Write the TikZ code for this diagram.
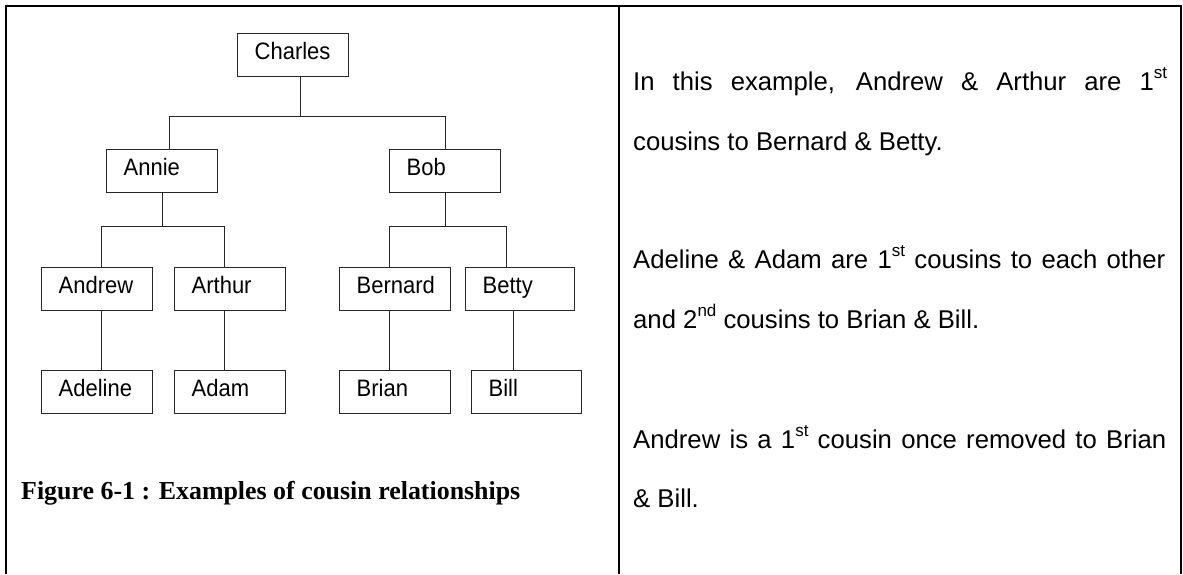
\documentclass[tikz,border=0pt]{standalone}
\usepackage{graphicx}
\usepackage{fontspec}
\setmainfont{Liberation Sans}
\newfontfamily\capfont{Liberation Serif}
\newcommand\personname[1]{\hspace*{17pt}\scalebox{1}[1.08]{#1}}
\newcommand\ordsup[1]{\raisebox{11.5pt}{\fontsize{17}{17}\selectfont #1}}
\begin{document}
\begin{tikzpicture}[x=1pt,y=-1pt,
  person/.style={draw=black!85, line width=1.3pt, rectangle, inner sep=0pt,
    minimum width=111pt, minimum height=43pt, text width=111pt, align=left,
    text height=26pt, text depth=17pt, anchor=north west,
    font=\fontsize{22}{26}\selectfont},
  link/.style={draw=black!85, line width=1.3pt},
  note/.style={anchor=base west, inner sep=0pt, font=\fontsize{25.7}{30}\selectfont},
  frame/.style={line width=2pt}]
\useasboundingbox (0,0) rectangle (1183,574);

% table frame and column divider
\draw[frame] (6,574) -- (6,6) -- (1180.5,6) -- (1180.5,574);
\draw[frame] (619,6) -- (619,574);

% family tree
\node[person] (charles) at (237,33) {\personname{Charles}};
\node[person] (annie) at (106,149) {\personname{Annie}};
\node[person] (bob) at (389,149) {\personname{Bob}};
\node[person] (andrew) at (41,267) {\personname{Andrew}};
\node[person] (arthur) at (174,267) {\personname{Arthur}};
\node[person] (bernard) at (339,267) {\personname{Bernard}};
\node[person, minimum width=109pt, text width=109pt] (betty) at (465,267) {\personname{Betty}};
\node[person] (adeline) at (41,370) {\personname{Adeline}};
\node[person] (adam) at (174,370) {\personname{Adam}};
\node[person] (brian) at (339,370) {\personname{Brian}};
\node[person, minimum width=110pt, text width=110pt] (bill) at (471,370) {\personname{Bill}};

% parent-to-children connectors
\draw[link] ([xshift=7.5pt]charles.south) -- ++(0,39) coordinate (j0);
\draw[link] ([xshift=7.5pt]annie.north) |- (j0) -| (bob.north);
\draw[link] (annie.south) -- ++(0,33) coordinate (ja);
\draw[link] ([xshift=4.5pt]andrew.north) |- (ja) -| ([xshift=-5.5pt]arthur.north);
\draw[link] (bob.south) -- ++(0,33) coordinate (jb);
\draw[link] ([xshift=-5.5pt]bernard.north) |- (jb) -| ([xshift=-13.5pt]betty.north);
\draw[link] ([xshift=4.5pt]andrew.south) -- ([xshift=4.5pt]adeline.north);
\draw[link] ([xshift=-5.5pt]arthur.south) -- ([xshift=-5.5pt]adam.north);
\draw[link] ([xshift=-5.5pt]bernard.south) -- ([xshift=-5.5pt]brian.north);
\draw[link] ([xshift=-6.5pt]betty.south) -- ([xshift=-13pt]bill.north);

% caption
\node[anchor=base west, inner sep=0pt, font=\capfont\bfseries\fontsize{25.9}{30}\selectfont]
  (caption) at (21,499) {Figure 6-1 : Examples of cousin relationships};

% explanatory text
\node[note] (t1) at (633,90) {\makebox[534pt][s]{In this example, Andrew \& Arthur are 1\ordsup{st}}};
\node[note] (t2) at (633,150) {cousins to Bernard \& Betty.};
\node[note] (t3) at (633,268) {\makebox[532pt][s]{Adeline \& Adam are 1\ordsup{st} cousins to each other}};
\node[note] (t4) at (633,328) {and 2\ordsup{nd} cousins to Brian \& Bill.};
\node[note] (t5) at (633,448) {\makebox[533pt][s]{Andrew is a 1\ordsup{st} cousin once removed to Brian}};
\node[note] (t6) at (633,507) {\& Bill.};
\end{tikzpicture}
\end{document}
